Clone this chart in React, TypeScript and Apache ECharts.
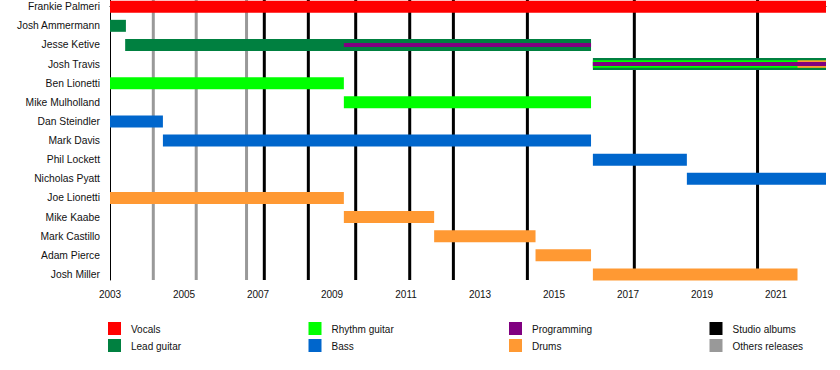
import React, { useEffect, useRef } from 'react';
import * as echarts from 'echarts';

const members = [
  'Frankie Palmeri', 'Josh Ammermann', 'Jesse Ketive', 'Josh Travis', 'Ben Lionetti',
  'Mike Mulholland', 'Dan Steindler', 'Mark Davis', 'Phil Lockett', 'Nicholas Pyatt',
  'Joe Lionetti', 'Mike Kaabe', 'Mark Castillo', 'Adam Pierce', 'Josh Miller',
];

const roles = ['Vocals', 'Lead guitar', 'Rhythm guitar', 'Bass', 'Drums', 'Programming'];
const releaseTypes = ['Studio albums', 'Others releases'];
const legendOrder = ['Vocals', 'Lead guitar', 'Rhythm guitar', 'Bass', 'Programming', 'Drums', 'Studio albums', 'Others releases'];

const startYear = 2003;
const endYear = 2022.35;

// [member, role, start, end]
const tenures: [string, string, number, number][] = [
  ['Frankie Palmeri', 'Vocals', 2003, 2022.35],
  ['Josh Ammermann', 'Lead guitar', 2003, 2003.43],
  ['Jesse Ketive', 'Lead guitar', 2003.41, 2016.0],
  ['Jesse Ketive', 'Programming', 2009.32, 2016.0],
  ['Josh Travis', 'Lead guitar', 2016.05, 2022.35],
  ['Josh Travis', 'Rhythm guitar', 2016.05, 2022.35],
  ['Josh Travis', 'Drums', 2021.58, 2022.35],
  ['Josh Travis', 'Programming', 2016.05, 2022.35],
  ['Ben Lionetti', 'Rhythm guitar', 2003, 2009.32],
  ['Mike Mulholland', 'Rhythm guitar', 2009.32, 2016.0],
  ['Dan Steindler', 'Bass', 2003, 2004.43],
  ['Mark Davis', 'Bass', 2004.43, 2016.0],
  ['Phil Lockett', 'Bass', 2016.05, 2018.59],
  ['Nicholas Pyatt', 'Bass', 2018.59, 2022.35],
  ['Joe Lionetti', 'Drums', 2003, 2009.32],
  ['Mike Kaabe', 'Drums', 2009.32, 2011.76],
  ['Mark Castillo', 'Drums', 2011.76, 2014.5],
  ['Adam Pierce', 'Drums', 2014.5, 2016.0],
  ['Josh Miller', 'Drums', 2016.05, 2021.58],
];

const studioAlbums = [2007.17, 2008.36, 2009.64, 2011.1, 2012.28, 2014.28, 2017.17, 2020.5];
const otherReleases = [2004.17, 2005.33, 2006.69];

const yearTicks = [2003, 2004, 2005, 2006, 2007, 2008, 2009, 2010, 2011, 2012, 2013, 2014, 2015, 2016, 2017, 2018, 2019, 2020, 2021, 2022];
const yearLabels = [2003, 2005, 2007, 2009, 2011, 2013, 2015, 2017, 2019, 2021];

const colors: Record<string, string> = {
  'Vocals': '#ff0000',
  'Lead guitar': '#008040',
  'Rhythm guitar': '#00ff00',
  'Bass': '#0066cc',
  'Drums': '#ff9933',
  'Programming': '#800080',
  'Studio albums': '#000000',
  'Others releases': '#999999',
};

const FONT = 'Liberation Sans, Arial, Helvetica, sans-serif';

function barHeight(member: string, role: string): number {
  if (role === 'Programming') return 4;
  const first = tenures.find((t) => t[0] === member);
  if (first && first[1] === role) return 12;
  return 7.5;
}

export default function App() {
  const ref = useRef<HTMLDivElement>(null);
  useEffect(() => {
    if (!ref.current) return;
    const chart = echarts.init(ref.current, null, { renderer: 'svg' });

    const releaseSeries = releaseTypes.map((type) => ({
      type: 'custom',
      name: type,
      z: 1,
      clip: false,
      data: (type === 'Studio albums' ? studioAlbums : otherReleases).map((v) => [v]),
      encode: { x: 0 },
      renderItem: (params: any, api: any) => {
        const x = api.coord([api.value(0), 0])[0];
        const cs = params.coordSys;
        return {
          type: 'line',
          shape: { x1: x, y1: cs.y, x2: x, y2: cs.y + cs.height },
          style: { stroke: colors[type], lineWidth: 3 },
        };
      },
    }));

    const barSeries = roles.map((role) => {
      const items = tenures.filter((t) => t[1] === role);
      return {
        type: 'custom',
        name: role,
        z: 2,
        clip: false,
        data: items.map((t) => [t[2], t[3], members.indexOf(t[0])]),
        encode: { x: [0, 1], y: 2 },
        renderItem: (params: any, api: any) => {
          const t = items[params.dataIndex];
          const h = barHeight(t[0], t[1]);
          const p0 = api.coord([api.value(0), api.value(2)]);
          const p1 = api.coord([api.value(1), api.value(2)]);
          return {
            type: 'rect',
            shape: { x: p0[0], y: p0[1] - h / 2, width: p1[0] - p0[0], height: h },
            style: { fill: colors[role] },
          };
        },
      };
    });

    const legendGraphics: any[] = [];
    legendOrder.forEach((name, i) => {
      const col = Math.floor(i / 2);
      const row = i % 2;
      const x = 108 + col * 200.5;
      const y = 322 + row * 17;
      legendGraphics.push({
        type: 'rect',
        shape: { x, y, width: 13, height: 13 },
        style: { fill: colors[name] },
      });
      legendGraphics.push({
        type: 'text',
        x: x + 23,
        y: y + 7.5,
        style: { text: name, fill: '#111', font: `10px ${FONT}`, verticalAlign: 'middle', align: 'left' },
      });
    });

    chart.setOption({
      animation: false,
      backgroundColor: '#ffffff',
      grid: { left: 110, top: 0, width: 716, height: 280, containLabel: false },
      xAxis: {
        type: 'value',
        min: startYear,
        max: endYear,
        splitLine: { show: false },
        axisLine: { show: true, lineStyle: { color: '#000', width: 1 } },
        axisTick: { show: true, length: 4, customValues: yearTicks, lineStyle: { color: '#000' } },
        axisLabel: {
          customValues: yearLabels,
          formatter: (v: number) => String(v),
          fontSize: 10,
          fontFamily: FONT,
          color: '#111',
          margin: 9,
        },
      },
      yAxis: {
        type: 'value',
        inverse: true,
        min: -0.35,
        max: 14.29,
        splitLine: { show: false },
        axisLine: { show: true, lineStyle: { color: '#000', width: 1 } },
        axisTick: { show: false },
        axisLabel: {
          customValues: members.map((_, i) => i),
          formatter: (v: number) => members[Math.round(v)] ?? '',
          fontSize: 10.3,
          fontFamily: FONT,
          color: '#111',
          margin: 10,
        },
      },
      series: [...releaseSeries, ...barSeries],
      graphic: legendGraphics,
    });

    return () => chart.dispose();
  }, []);

  return <div ref={ref} style={{ width: 840, height: 370, position: 'absolute', left: 0, top: 0 }} />;
}
